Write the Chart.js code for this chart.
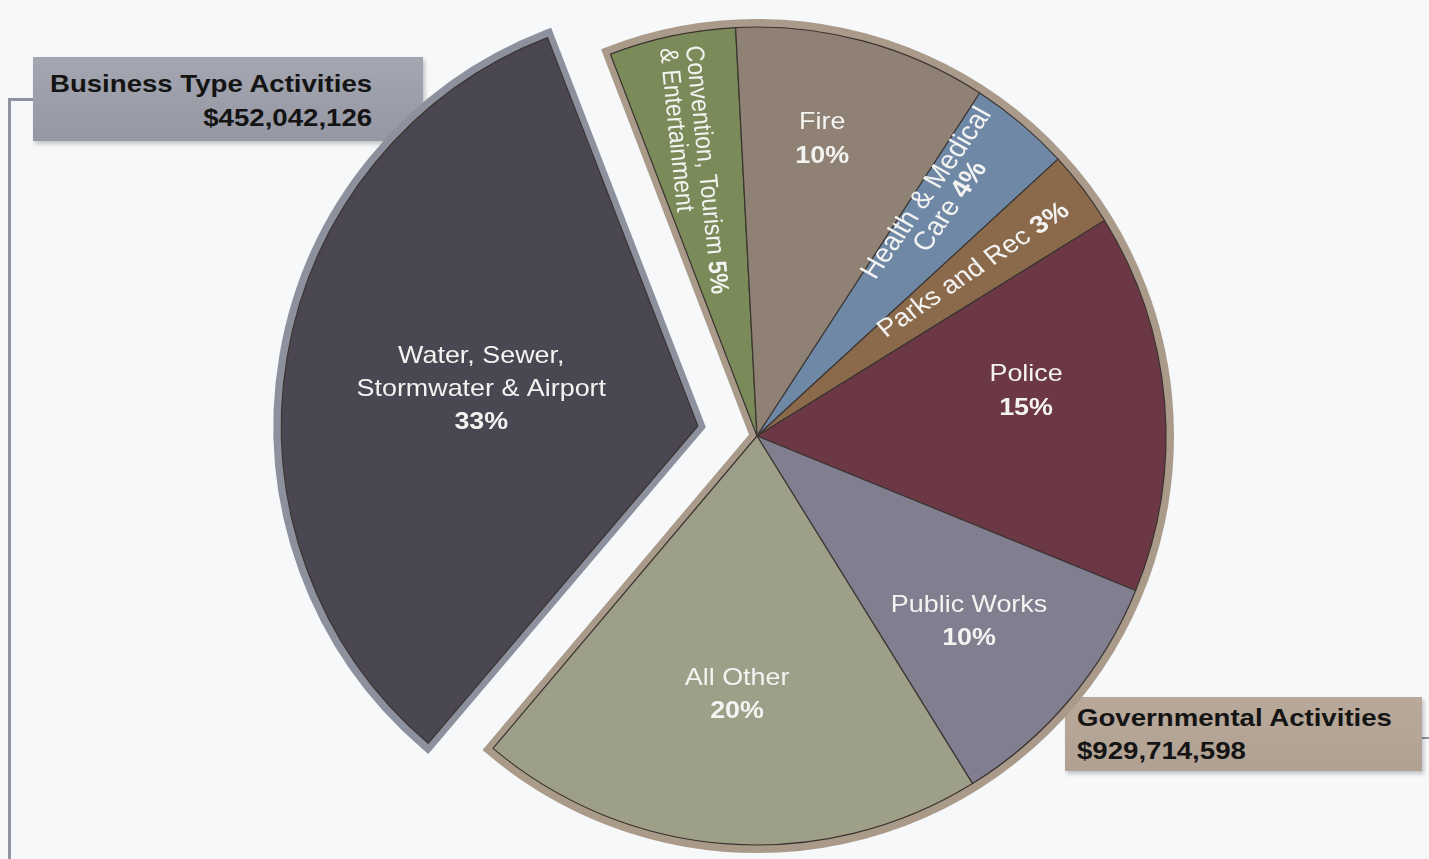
<!DOCTYPE html>
<html>
<head>
  <title>Business Type and Governmental Activities</title>
  <script src="https://cdn.jsdelivr.net/npm/chart.js"></script>
  <style>
    body { margin: 0; width: 1429px; height: 859px; background: #f7f8fa; overflow: hidden; position: relative;
           font-family: "Liberation Sans", Arial, sans-serif; }
    .layer { position: absolute; left: 0; top: 0; }
    .line { position: absolute; background: #8f93a2; }
    .box { position: absolute; box-shadow: 2px 3px 4px rgba(0,0,0,0.22); }
    .box .txt { position: absolute; font-weight: bold; font-size: 24px; color: #141414; white-space: nowrap; }
  </style>
</head>
<body>

  <div class="line" style="left:8px; top:98px; width:3px; height:761px"></div>
  <div class="line" style="left:8px; top:98px; width:26px; height:3px"></div>
  <div class="line" style="left:1420px; top:737px; width:9px; height:2px"></div>

  <div class="box" style="left:33px; top:57px; width:390px; height:84px; background:linear-gradient(#a4a6b1,#9597a3)">
    <div class="txt" id="busTxt" style="right:51px; top:10px; line-height:34px; text-align:right; transform:scaleX(1.15); transform-origin:right center"></div>
  </div>
  <div class="box" style="left:1065px; top:697px; width:357px; height:74px; background:linear-gradient(#b9a99b,#b1a193)">
    <div class="txt" id="govTxt" style="left:12px; top:4px; line-height:33px; text-align:left; transform:scaleX(1.15); transform-origin:left center"></div>
  </div>

  <canvas id="groupCanvas" class="layer" width="1429" height="859"></canvas>
  <canvas id="sliceCanvas" class="layer" width="1429" height="859"></canvas>

  <script>
    // slices, clockwise from the top
    const categories = ['Convention, Tourism & Entertainment', 'Fire', 'Health & Medical Care', 'Parks and Rec',
                        'Police', 'Public Works', 'All Other', 'Water, Sewer, Stormwater & Airport'];
    const values = [5, 10, 4, 3, 15, 10, 20, 33];
    const sliceGroup = [0, 0, 0, 0, 0, 0, 0, 1];   // 0 = governmental, 1 = business type
    const groupNames = ['Governmental Activities', 'Business Type Activities'];
    const groupAmounts = ['$929,714,598', '$452,042,126'];

    const sliceColors = ['#7b8a59', '#8f8173', '#6f88a6', '#8b6a4c', '#6d3846', '#817e8f', '#9e9f89', '#4b4752'];
    const groupColors = ['#a99a8a', '#8d909d'];
    const explode = 240;   // arc offset option (drawn as offset / 4 px)
    const textStretch = 1.12;
    const fontFamily = '"Liberation Sans", Arial, sans-serif';

    // label placement: angle shift (deg) from slice middle, radius fraction, visual rotation (deg)
    const labelLayout = [
      { lines: ['Convention, Tourism {p}', '& Entertainment'], shift: 0.8, frac: 0.97, rot: 84, lh: 23, size: 23, align: 'left' },
      { lines: ['Fire', '{p}'], shift: -2.6, frac: 0.743, rot: 0, lh: 34, size: 24, align: 'center' },
      { lines: ['Health & Medical', 'Care {p}'], shift: -2.6, frac: 0.728, rot: -55, lh: 25, size: 26, align: 'center' },
      { lines: ['Parks and Rec {p}'], shift: -0.2, frac: 0.667, rot: -34, lh: 26, size: 25, align: 'center' },
      { lines: ['Police', '{p}'], shift: -4.7, frac: 0.667, rot: 0, lh: 34, size: 24, align: 'center' },
      { lines: ['Public Works', '{p}'], shift: 1, frac: 0.689, rot: 0, lh: 33, size: 24, align: 'center' },
      { lines: ['All Other', '{p}'], shift: 0.2, frac: 0.635, rot: 0, lh: 33, size: 24, align: 'center' },
      { lines: ['Water, Sewer,', 'Stormwater & Airport', '{p}'], shift: 0, frac: 0.537, rot: 0, lh: 33, size: 24, align: 'center' }
    ];

    document.getElementById('busTxt').innerHTML = groupNames[1] + '<br>' + groupAmounts[1];
    document.getElementById('govTxt').innerHTML = groupNames[0] + '<br>' + groupAmounts[0];

    const groupTotals = groupNames.map((g, gi) =>
      values.reduce((s, v, i) => s + (sliceGroup[i] === gi ? v : 0), 0));

    const commonOptions = {
      responsive: false,
      devicePixelRatio: 1,
      animation: false,
      events: [],
      rotation: -21,
      layout: { padding: { left: 85, top: 13, right: 0, bottom: 0 } },
      plugins: { legend: { display: false }, tooltip: { enabled: false } }
    };

    new Chart(document.getElementById('groupCanvas'), {
      type: 'pie',
      data: {
        labels: groupNames,
        datasets: [{
          data: groupTotals,
          backgroundColor: groupColors,
          borderColor: groupColors,
          borderWidth: 14,
          borderJoinStyle: 'miter',
          offset: [0, explode],
          clip: false
        }]
      },
      options: Object.assign({}, commonOptions, { radius: 410 })
    });

    function segmentsOf(line, pct) {
      const parts = line.split('{p}');
      const segs = [];
      parts.forEach((p, k) => {
        if (p) segs.push([p, false]);
        if (k < parts.length - 1) segs.push([pct, true]);
      });
      return segs;
    }

    const sliceLabels = {
      id: 'sliceLabels',
      afterDatasetsDraw(chart) {
        const ctx = chart.ctx;
        const arcs = chart.getDatasetMeta(0).data;
        arcs.forEach((arc, i) => {
          const lay = labelLayout[i];
          const half = (arc.startAngle + arc.endAngle) / 2;
          const off = (arc.options.offset || 0) / 4;
          const a = half + lay.shift * Math.PI / 180;
          const r = lay.frac * arc.outerRadius;
          const px = arc.x + Math.cos(half) * off + Math.cos(a) * r;
          const py = arc.y + Math.sin(half) * off + Math.sin(a) * r;
          const phi = lay.rot * Math.PI / 180;
          const theta = Math.atan2(Math.sin(phi), Math.cos(phi) / textStretch);
          const pct = values[i] + '%';
          const fontOf = bold => (bold ? 'bold ' : '') + lay.size + 'px ' + fontFamily;
          ctx.save();
          ctx.translate(px, py);
          ctx.scale(textStretch, 1);
          ctx.rotate(theta);
          ctx.fillStyle = '#f3f3f1';
          ctx.textBaseline = 'middle';
          ctx.textAlign = 'left';
          const n = lay.lines.length;
          lay.lines.forEach((line, k) => {
            const segs = segmentsOf(line, pct);
            let w = 0;
            segs.forEach(s => { ctx.font = fontOf(s[1]); w += ctx.measureText(s[0]).width; });
            let x = lay.align === 'center' ? -w / 2 : 0;
            const y = (k - (n - 1) / 2) * lay.lh;
            segs.forEach(s => {
              ctx.font = fontOf(s[1]);
              ctx.fillText(s[0], x, y);
              x += ctx.measureText(s[0]).width;
            });
          });
          ctx.restore();
        });
      }
    };

    new Chart(document.getElementById('sliceCanvas'), {
      type: 'pie',
      data: {
        labels: categories,
        datasets: [{
          data: values,
          backgroundColor: sliceColors,
          borderColor: '#3a3431',
          borderWidth: 1.2,
          offset: sliceGroup.map(g => g === 1 ? explode : 0),
          clip: false
        }]
      },
      options: Object.assign({}, commonOptions, { radius: 409 }),
      plugins: [sliceLabels]
    });
  </script>
</body>
</html>
